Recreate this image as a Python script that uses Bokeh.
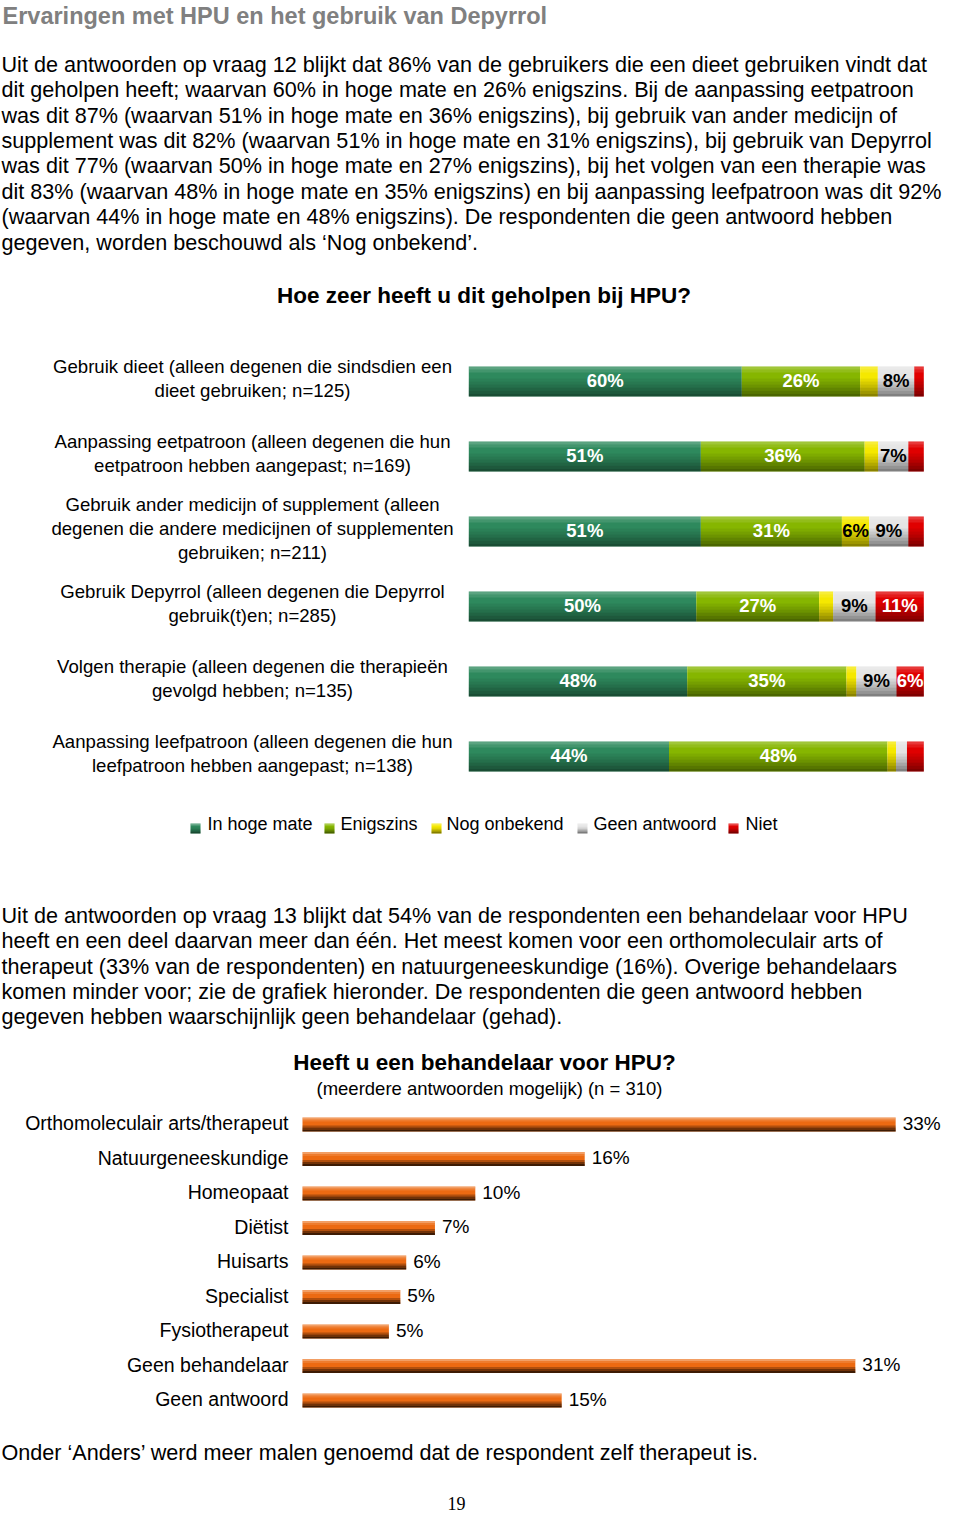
from bokeh.plotting import figure
from bokeh.layouts import column
from bokeh.models import Range1d
from bokeh.core.properties import value
from bokeh.embed import file_html
from bokeh.resources import INLINE

# ---------------- data ----------------
page_title = "Ervaringen met HPU en het gebruik van Depyrrol"
intro_lines = [
    "Uit de antwoorden op vraag 12 blijkt dat 86% van de gebruikers die een dieet gebruiken vindt dat",
    "dit geholpen heeft; waarvan 60% in hoge mate en 26% enigszins. Bij de aanpassing eetpatroon",
    "was dit 87% (waarvan 51% in hoge mate en 36% enigszins), bij gebruik van ander medicijn of",
    "supplement was dit 82% (waarvan 51% in hoge mate en 31% enigszins), bij gebruik van Depyrrol",
    "was dit 77% (waarvan 50% in hoge mate en 27% enigszins), bij het volgen van een therapie was",
    "dit 83% (waarvan 48% in hoge mate en 35% enigszins) en bij aanpassing leefpatroon was dit 92%",
    "(waarvan 44% in hoge mate en 48% enigszins). De respondenten die geen antwoord hebben",
    "gegeven, worden beschouwd als \u2018Nog onbekend\u2019.",
]
chart1_title = "Hoe zeer heeft u dit geholpen bij HPU?"
c1_categories = [
    "Gebruik dieet (alleen degenen die sindsdien een\ndieet gebruiken; n=125)",
    "Aanpassing eetpatroon (alleen degenen die hun\neetpatroon hebben aangepast; n=169)",
    "Gebruik ander medicijn of supplement (alleen\ndegenen die andere medicijnen of supplementen\ngebruiken; n=211)",
    "Gebruik Depyrrol (alleen degenen die Depyrrol\ngebruik(t)en; n=285)",
    "Volgen therapie (alleen degenen die therapie\u00ebn\ngevolgd hebben; n=135)",
    "Aanpassing leefpatroon (alleen degenen die hun\nleefpatroon hebben aangepast; n=138)",
]
c1_series = ["In hoge mate", "Enigszins", "Nog onbekend", "Geen antwoord", "Niet"]
in_hoge_mate = [60, 51, 51, 50, 48, 44]
enigszins = [26, 36, 31, 27, 35, 48]
nog_onbekend = [3.9, 3.0, 6.0, 3.1, 2.2, 1.9]
geen_antwoord = [8.0, 6.6, 8.6, 9.3, 8.8, 2.4]
niet = [2.1, 3.4, 3.4, 10.6, 6.0, 3.7]

middle_lines = [
    "Uit de antwoorden op vraag 13 blijkt dat 54% van de respondenten een behandelaar voor HPU",
    "heeft en een deel daarvan meer dan \u00e9\u00e9n. Het meest komen voor een orthomoleculair arts of",
    "therapeut (33% van de respondenten) en natuurgeneeskundige (16%). Overige behandelaars",
    "komen minder voor; zie de grafiek hieronder. De respondenten die geen antwoord hebben",
    "gegeven hebben waarschijnlijk geen behandelaar (gehad).",
]
chart2_title = "Heeft u een behandelaar voor HPU?"
chart2_subtitle = "(meerdere antwoorden mogelijk) (n = 310)"
c2_categories = [
    "Orthomoleculair arts/therapeut", "Natuurgeneeskundige", "Homeopaat", "Di\u00ebtist",
    "Huisarts", "Specialist", "Fysiotherapeut", "Geen behandelaar", "Geen antwoord",
]
c2_values = [33.23, 15.81, 9.68, 7.42, 5.81, 5.48, 4.84, 30.97, 14.52]
closing_line = "Onder \u2018Anders\u2019 werd meer malen genoemd dat de respondent zelf therapeut is."
page_number = "19"

# ---------------- styling ----------------
W = 944
SANS = "Liberation Sans"
SERIF = "Liberation Serif"
PARA_SIZE = 21.6
TEXT_LIFT_PX = 1.5  # rendered text sits slightly low; lift it
PX_PER_UNIT = {}


def make_fig(height, x_range, y_range, px_per_y_unit=1.0):
    p = figure(width=W, height=height, x_range=x_range, y_range=y_range,
               output_backend="svg", toolbar_location=None, tools="",
               min_border=0, x_axis_location=None, y_axis_location=None,
               outline_line_color=None, background_fill_color="white",
               border_fill_color="white")
    p.grid.visible = False
    PX_PER_UNIT[id(p)] = px_per_y_unit
    return p


def txt(p, x, y, s, size, bold=False, align="left", color="#000000", font=SANS):
    y = y - TEXT_LIFT_PX / PX_PER_UNIT[id(p)]
    p.text(x=[x], y=[y], text=[s], text_font=value(font),
           text_font_size=value(f"{size}px"),
           text_font_style="bold" if bold else "normal",
           text_align=align, text_baseline="middle", text_color=color)


def shade(p, rows, rights, height, profile):
    n = len(profile)
    for j, (col, alpha) in enumerate(profile):
        if alpha <= 0:
            continue
        off = -height / 2 + height * (j + 0.5) / n
        p.hbar(y=[r + off for r in rows], left=0, right=rights, height=height / n * 1.02,
               fill_color=col, fill_alpha=alpha, line_color=None)


# ---------------- figure A: heading + intro ----------------
HA = 330
fa = make_fig(HA, Range1d(0, W), Range1d(HA, 0))
txt(fa, 2, 16.5, page_title, 23.5, bold=True, color="#808080")
for i, line in enumerate(intro_lines):
    txt(fa, 1, 65.5 + 25.36 * i, line, PARA_SIZE)
txt(fa, 483.5, 296, chart1_title, 22.5, bold=True, align="center")

# ---------------- figure B: stacked bar chart ----------------
HB = 520
TOPB = HA
K1, X1, Y1, U1 = 4.55, 468.3, 381.0 - TOPB, 75.0
fb = make_fig(HB, Range1d(-X1 / K1, (W - X1) / K1), Range1d((HB - Y1) / U1, -Y1 / U1), U1)
rows1 = list(range(len(c1_categories)))
series_vals = [in_hoge_mate, enigszins, nog_onbekend, geen_antwoord, niet]
base_colors = ["#2e895d", "#86b600", "#f5e800", "#e4e4e4", "#e00000"]
label_colors = ["white", "white", "black", "black", "white"]
BAR1 = 0.4
left = [0.0] * len(rows1)
for s, vals in enumerate(series_vals):
    right = [l + v for l, v in zip(left, vals)]
    fb.hbar(y=rows1, left=left, right=right, height=BAR1,
            fill_color=base_colors[s], line_color=None)
    left = right
totals = left
profile1 = [("white", 0.22), ("white", 0.10), ("white", 0.0), ("black", 0.0),
            ("black", 0.06), ("black", 0.12), ("black", 0.19), ("black", 0.27),
            ("black", 0.35), ("black", 0.44)]
shade(fb, rows1, totals, BAR1, profile1)
left = [0.0] * len(rows1)
for s, vals in enumerate(series_vals):
    right = [l + v for l, v in zip(left, vals)]
    for r, (l, rr, v) in enumerate(zip(left, right, vals)):
        if v >= 5:
            txt(fb, (l + rr) / 2, r, f"{int(v + 0.5)}%", 18.5, bold=True,
                align="center", color=label_colors[s])
    left = right
xl = (252 - X1) / K1
for r, cat in enumerate(c1_categories):
    lines = cat.split("\n")
    n = len(lines)
    for k, line in enumerate(lines):
        dy = (-2 + 24 * (k - (n - 1) / 2)) / U1
        txt(fb, xl, r + dy, line, 18.6, align="center")
# legend
leg_marker_x = [195, 329, 436, 582, 733]
leg_text_x = [207, 340, 446, 593, 745]
leg_y_text = (825 - TOPB - Y1) / U1
leg_y_mark = (828 - TOPB - Y1) / U1
msz = 10 / U1
for s, name in enumerate(c1_series):
    mx = (leg_marker_x[s] - X1) / K1
    mw = 10 / K1
    fb.rect(x=[mx], y=[leg_y_mark], width=mw, height=msz,
            fill_color=base_colors[s], line_color=None)
    for j, (col, alpha) in enumerate(profile1[::2]):
        if alpha <= 0:
            continue
        off = -msz / 2 + msz * (j + 0.5) / 5
        fb.rect(x=[mx], y=[leg_y_mark + off], width=mw, height=msz / 5 * 1.02,
                fill_color=col, fill_alpha=alpha * 1.3, line_color=None)
    txt(fb, (leg_text_x[s] - X1) / K1, leg_y_text, name, 18)

# ---------------- figure C: middle paragraph ----------------
HC = 190
TOPC = TOPB + HB
fc = make_fig(HC, Range1d(0, W), Range1d(HC, 0))
for i, line in enumerate(middle_lines):
    txt(fc, 1, 916.5 - TOPC + 25.25 * i, line, PARA_SIZE)

# ---------------- figure D: horizontal bar chart ----------------
HD = 385
TOPD = TOPC + HC
K2, X2, Y2, U2 = 17.85, 302.0, 1124.0 - TOPD, 34.5
fd = make_fig(HD, Range1d(-X2 / K2, (W - X2) / K2), Range1d((HD - Y2) / U2, -Y2 / U2), U2)
rows2 = list(range(len(c2_categories)))
BAR2 = 14 / U2
txt(fd, (484 - X2) / K2, (1063 - TOPD - Y2) / U2, chart2_title, 22.5, bold=True, align="center")
txt(fd, (489 - X2) / K2, (1089 - TOPD - Y2) / U2, chart2_subtitle, 18.5, align="center")
fd.hbar(y=rows2, left=0, right=c2_values, height=BAR2, fill_color="#ec6a12", line_color=None)
profile2 = [("white", 0.35), ("white", 0.12), ("white", 0.0), ("black", 0.0),
            ("black", 0.25), ("black", 0.52), ("black", 0.74)]
shade(fd, rows2, c2_values, BAR2, profile2)
for r, (cat, v) in enumerate(zip(c2_categories, c2_values)):
    txt(fd, (288 - X2) / K2, r, cat, 19.5, align="right")
    txt(fd, v + 7 / K2, r, f"{int(v + 0.5)}%", 19)

# ---------------- figure E: closing line + page number ----------------
HE = 95
TOPE = TOPD + HD
fe = make_fig(HE, Range1d(0, W), Range1d(HE, 0))
txt(fe, 1, 1453 - TOPE, closing_line, PARA_SIZE)
txt(fe, 456, 79, page_number, 18, font=SERIF, align="center")

layout = column(fa, fb, fc, fd, fe, spacing=0)
open("out.html", "w").write(file_html(layout, INLINE, title="HPU"))
